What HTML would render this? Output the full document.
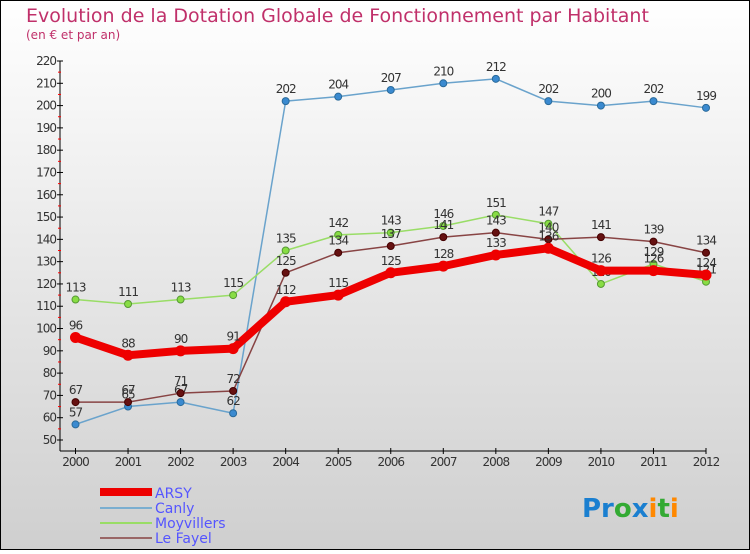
<!DOCTYPE html>
<html><head><meta charset="utf-8"><style>
body{margin:0;}
#c{width:750px;height:550px;position:relative;font-family:"DejaVu Sans","Liberation Sans",sans-serif;}
</style></head><body>
<div id="c">
<svg id="s" width="750" height="550" xmlns="http://www.w3.org/2000/svg">
<defs><linearGradient id="bg" x1="0" y1="0" x2="0" y2="1"><stop offset="0" stop-color="#ffffff"/><stop offset="1" stop-color="#cfcfcf"/></linearGradient></defs>
<rect x="0.5" y="0.5" width="749" height="549" fill="url(#bg)" stroke="#000"/>
<text x="26" y="22" font-size="19" fill="#c0306a">Evolution de la Dotation Globale de Fonctionnement par Habitant</text>
<text x="26" y="39" font-size="12" fill="#c0306a">(en € et par an)</text>
<g id="axes"></g><g id="series"></g>
<g>
<rect x="100" y="488" width="52" height="8" fill="#ee0000"/>
<text x="155" y="498" font-size="14" fill="#5555ff">ARSY</text>
<rect x="100" y="507" width="52" height="2" fill="#7aaed0"/>
<text x="155" y="513" font-size="14" fill="#5555ff">Canly</text>
<rect x="100" y="522" width="52" height="2" fill="#99dd66"/>
<text x="155" y="528" font-size="14" fill="#5555ff">Moyvillers</text>
<rect x="100" y="537" width="52" height="2" fill="#996666"/>
<text x="155" y="543" font-size="14" fill="#5555ff">Le Fayel</text>
</g>
<text x="582" y="517" font-size="26" font-weight="bold"><tspan fill="#1a7fd0">Pr</tspan><tspan fill="#33aa33">o</tspan><tspan fill="#1a7fd0">x</tspan><tspan fill="#ff8800">i</tspan><tspan fill="#33aa33">t</tspan><tspan fill="#ff8800">i</tspan></text>
</svg></div>
<script>
const years=[2000,2001,2002,2003,2004,2005,2006,2007,2008,2009,2010,2011,2012];
const arsy=[96,88,90,91,112,115,125,128,133,136,126,126,124];
const canly=[57,65,67,62,202,204,207,210,212,202,200,202,199];
const moyvillers=[113,111,113,115,135,142,143,146,151,147,120,129,121];
const leFayel=[67,67,71,72,125,134,137,141,143,140,141,139,134];
const yTicks=[50,60,70,80,90,100,110,120,130,140,150,160,170,180,190,200,210,220];
const NS="http://www.w3.org/2000/svg";
const x0=75.5,x1=706,yB=440,yT=61;
const X=i=>x0+(x1-x0)*i/(years.length-1);
const Y=v=>yB-(v-50)*(yB-yT)/170;
function mk(t,a,p){const e=document.createElementNS(NS,t);for(const k in a)e.setAttribute(k,a[k]);p.appendChild(e);return e;}
const ax=document.getElementById('axes');
let l=mk('line',{x1:60,y1:yT,x2:60,y2:451,stroke:'#000'},ax);


l=mk('line',{x1:60,y1:451,x2:x1,y2:451,stroke:'#000'},ax);


yTicks.forEach(v=>{
 mk('line',{x1:57,x2:63,y1:Y(v),y2:Y(v),stroke:'#000'},ax);
 if(v<220) mk('line',{x1:58,x2:61,y1:Y(v+5),y2:Y(v+5),stroke:'#f00'},ax);
 const t=mk('text',{x:56,y:Y(v)+4,'font-size':12,'text-anchor':'end',fill:'#333','letter-spacing':'-1'},ax);
 t.textContent=v;
 
 
});
years.forEach((yr,i)=>{
 mk('line',{x1:X(i),x2:X(i),y1:448,y2:454,stroke:'#000'},ax);
 const t=mk('text',{x:X(i),y:466,'font-size':12,'text-anchor':'middle',fill:'#333','letter-spacing':'-1'},ax);
 t.textContent=yr;
 
 
});
const sg=document.getElementById('series');
function draw(vals,name,color,w,dot,dotStroke,r){
 const g=mk('g',{},sg);
 
 
 const p=mk('polyline',{points:vals.map((v,i)=>X(i)+','+Y(v)).join(' '),fill:'none',stroke:color,'stroke-width':w,'stroke-linejoin':'round'},g);
 
 
 vals.forEach((v,i)=>{
  const c=mk('circle',{cx:X(i),cy:Y(v),r:r,fill:dot,stroke:dotStroke,'stroke-width':1},g);
  
  
  const t=mk('text',{x:X(i),y:Y(v)-8,'font-size':12,'text-anchor':'middle',fill:'#333','letter-spacing':'-1'},g);
  t.textContent=v;
  
  
 });
}
draw(canly,'canly','#6aa3cc',1.5,'#3a8ad0','#2a6a9a',3.5);
draw(moyvillers,'moyvillers','#99dd66',1.5,'#88dd44','#559933',3.5);
draw(leFayel,'le-fayel','#884444',1.5,'#661111','#440000',3.5);
draw(arsy,'arsy','#ee0000',8,'#ee0000','#ee0000',5);
</script>
</body></html>
